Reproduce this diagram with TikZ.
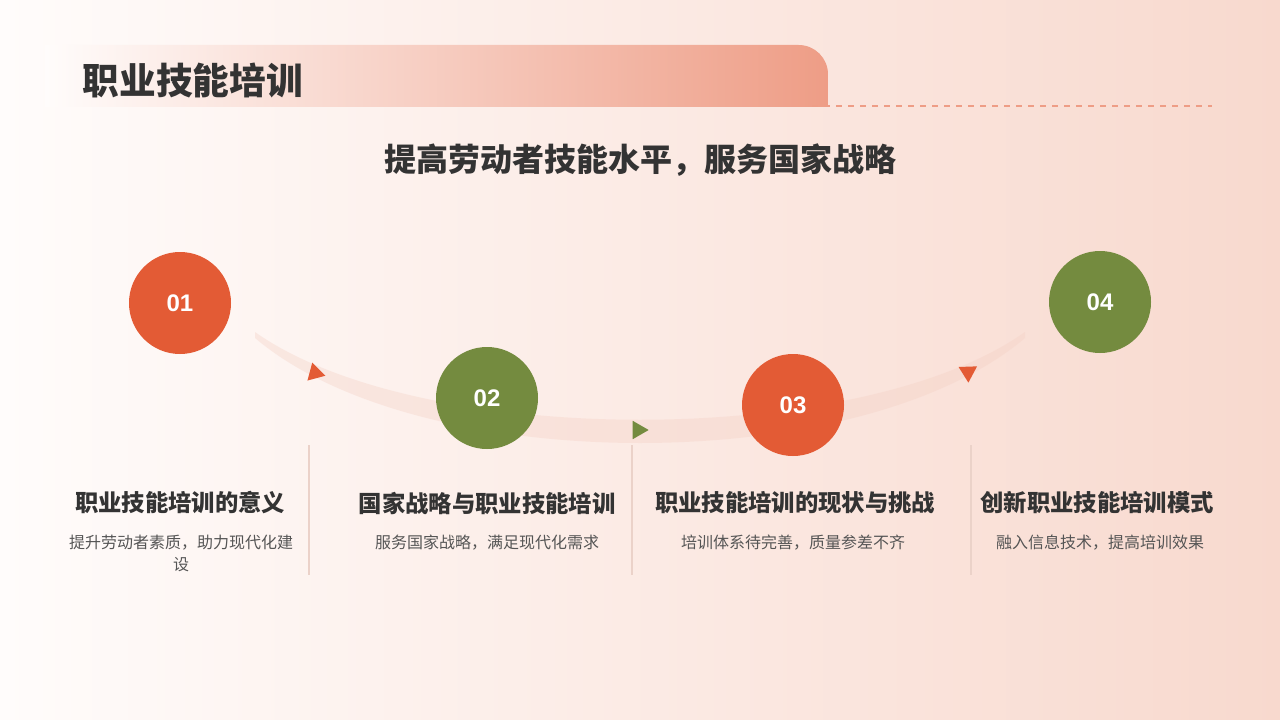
\documentclass[tikz,border=0pt]{standalone}
\usepackage{fontspec}
\setmainfont{Noto Sans CJK SC}
\newfontfamily\numfont{Liberation Sans}
\usetikzlibrary{shapes.geometric}
\definecolor{accent}{HTML}{E35B35}
\definecolor{olive}{HTML}{748B3F}
\definecolor{salmon}{HTML}{EE9D86}
\definecolor{ink}{HTML}{333333}
\definecolor{subtext}{HTML}{555555}
\definecolor{bgleft}{HTML}{FFFCFB}
\definecolor{bgright}{HTML}{F8D9CE}
\definecolor{band}{HTML}{F4CFC3}
\definecolor{sepline}{HTML}{EBD2C9}

\begin{document}
\begin{tikzpicture}[x=0.75pt,y=-0.75pt,
  num/.style={circle,inner sep=0pt,minimum size=76.5pt,text=white,font=\numfont\bfseries\fontsize{18}{18}\selectfont},
  head/.style={text=ink,font=\bfseries\fontsize{17.5}{20}\selectfont},
  desc/.style={anchor=north,text=subtext,align=center,text width=180pt,font=\fontsize{12}{17}\selectfont},
  tri/.style={regular polygon,regular polygon sides=3,inner sep=0pt,minimum size=16pt}]
\useasboundingbox (0,0) rectangle (1280,720);
% background
\shade[left color=bgleft,right color=bgright] (0,0) rectangle (1280,720);
% title bar
\begin{scope}
\clip[rounded corners=22pt] (0,45) rectangle (828,160);
\shade[left color=bgleft,right color=salmon] (45,45) rectangle (828,107);
\end{scope}
\coordinate (ds) at (812,106);
\coordinate (de) at (1212,106);
\draw[salmon,line width=0.8pt,dash pattern=on 4.5pt off 4.5pt] (ds)--(de);
\node[anchor=west,text=ink,font=\bfseries\fontsize{27.5}{30}\selectfont] (title) at (78,80) {职业技能培训};
\node[text=ink,font=\bfseries\fontsize{24}{28}\selectfont] (sub) at (640,160) {提高劳动者技能水平，服务国家战略};
% band
\fill[band,opacity=0.35]
  (255,332) .. controls (420,449) and (860,449) .. (1025,332)
  -- (1025,338) .. controls (860,478) and (420,478) .. (255,338) -- cycle;
% arrows on the band
\node[tri,fill=accent,rotate=15] (t1) at (315,373) {};
\node[tri,fill=olive,rotate=-90] (t2) at (638,430) {};
\node[tri,fill=accent,rotate=182] (t3) at (968,372) {};
% separators
\foreach \x [count=\k] in {309,632,971} {
  \coordinate (s\k a) at (\x,445);
  \coordinate (s\k b) at (\x,575);
  \draw[sepline,line width=0.8pt] (s\k a)--(s\k b);
}
% steps
\foreach \i/\cx/\cy/\col/\hx/\dx/\headtxt/\desctxt in {
  1/180/303/accent/180/181/职业技能培训的意义/提升劳动者素质，助力现代化建\\设,
  2/487/398/olive/487/487/国家战略与职业技能培训/服务国家战略，满足现代化需求,
  3/793/405/accent/795/793/职业技能培训的现状与挑战/培训体系待完善，质量参差不齐,
  4/1100/302/olive/1097/1100/创新职业技能培训模式/融入信息技术，提高培训效果} {
  \node[num,fill=\col] (c\i) at (\cx,\cy) {0\i};
  \node[head] (h\i) at (\hx,503) {\headtxt};
  \node[desc] (d\i) at (\dx,530) {\desctxt};
}
\end{tikzpicture}
\end{document}
